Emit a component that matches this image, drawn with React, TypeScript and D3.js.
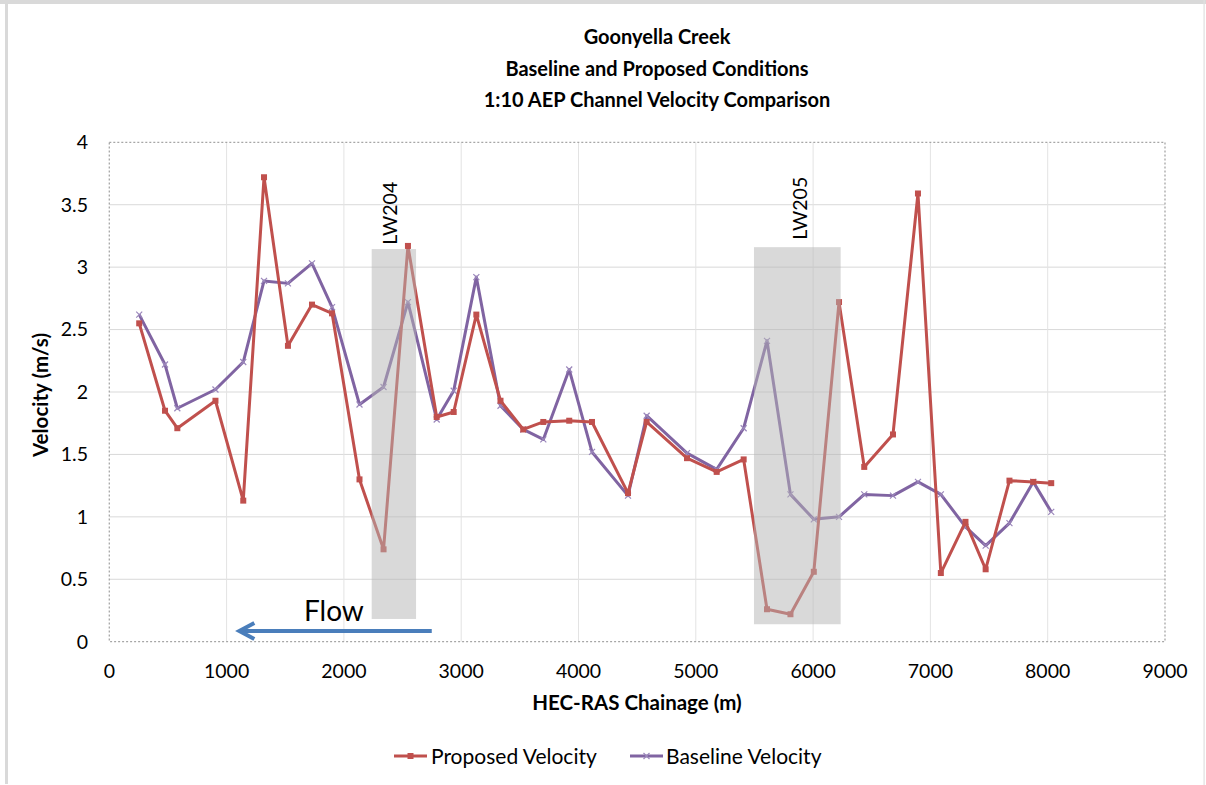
import React from "react";
import * as d3 from "d3";

const chainage = [255, 475, 580, 905, 1142, 1319, 1523, 1728, 1899, 2133, 2338, 2546, 2791, 2936, 3129, 3335, 3529, 3700, 3921, 4115, 4422, 4581, 4925, 5178, 5408, 5607, 5807, 6006, 6221, 6436, 6681, 6894, 7089, 7299, 7471, 7674, 7877, 8030];
const proposed = [2.55, 1.85, 1.71, 1.93, 1.13, 3.72, 2.37, 2.70, 2.63, 1.30, 0.74, 3.17, 1.80, 1.84, 2.62, 1.93, 1.70, 1.76, 1.77, 1.76, 1.19, 1.76, 1.47, 1.36, 1.46, 0.26, 0.22, 0.56, 2.72, 1.40, 1.66, 3.59, 0.55, 0.96, 0.58, 1.29, 1.28, 1.27];
const baseline = [2.62, 2.22, 1.87, 2.02, 2.24, 2.89, 2.87, 3.03, 2.68, 1.90, 2.04, 2.72, 1.78, 2.01, 2.92, 1.89, 1.70, 1.62, 2.18, 1.52, 1.17, 1.81, 1.51, 1.38, 1.71, 2.41, 1.18, 0.98, 1.00, 1.18, 1.17, 1.28, 1.18, 0.92, 0.77, 0.95, 1.28, 1.04];
const xTicks = [0, 1000, 2000, 3000, 4000, 5000, 6000, 7000, 8000, 9000];
const yTicks = [0, 0.5, 1, 1.5, 2, 2.5, 3, 3.5, 4];
const zones = [
  { name: "LW204", x0: 2237, x1: 2615, y0: 0.182, y1: 3.145, labelX: 2450, labelY: 3.18 },
  { name: "LW205", x0: 5496, x1: 6235, y0: 0.14, y1: 3.16, labelX: 5950, labelY: 3.22 },
];
const titleLines = ["Goonyella Creek", "Baseline and Proposed Conditions", "1:10 AEP Channel Velocity Comparison"];
const flow = { label: "Flow", from: 2749, to: 1100, y: 0.086, textX: 1660, textY: 0.168 };

const RED = "#c0504d";
const PURPLE = "#8064a2";
const FONT = "Lato, 'Open Sans', sans-serif";

export default function App() {
  const W = 1206, H = 785;
  const L = 109.3, R = 1165, T = 142.3, B = 641.7;
  const x = d3.scaleLinear().domain([0, 9000]).range([L, R]);
  const y = d3.scaleLinear().domain([0, 4]).range([B, T]);
  const line = d3.line<number>().x((_, i) => x(chainage[i])).y((d) => y(d));

  const ax = x(flow.to), bx = x(flow.from), fy = y(flow.y);

  return (
    <svg width={W} height={H} style={{ position: "absolute", left: 0, top: 0, background: "#fff" }} fontFamily={FONT}>
      <rect x={0} y={0} width={W} height={H} fill="#fff" />
      {/* outer frame */}
      <rect x={0} y={0} width={W} height={4} fill="#d9d9d9" />
      <rect x={5} y={0} width={3} height={784} fill="#d9d9d9" />
      <rect x={1203.5} y={0} width={1.2} height={H} fill="#e0e0e0" />

      {/* title */}
      {titleLines.map((t, i) => (
        <text key={t} x={657} y={44 + i * 31.5} textAnchor="middle" fontWeight="bold" fontSize={20} fill="#000">{t}</text>
      ))}

      {/* gridlines */}
      {yTicks.filter((v) => v > 0 && v < 4).map((v) => (
        <line key={"gy" + v} x1={L} x2={R} y1={y(v)} y2={y(v)} stroke="#d9d9d9" strokeWidth={1} />
      ))}
      {xTicks.filter((v) => v > 0 && v < 9000).map((v) => (
        <line key={"gx" + v} x1={x(v)} x2={x(v)} y1={T} y2={B} stroke="#e3e3e3" strokeWidth={1} />
      ))}
      {/* plot border */}
      <rect x={L} y={T} width={R - L} height={B - T} fill="none" stroke="#a6a6a6" strokeWidth={1.3} strokeDasharray="2,2" />

      {/* tick labels */}
      {yTicks.map((v) => (
        <text key={"ty" + v} x={88} y={y(v)} dy="0.35em" textAnchor="end" fontSize={19.5} fill="#000">{v}</text>
      ))}
      {xTicks.map((v) => (
        <text key={"tx" + v} x={x(v)} y={678} textAnchor="middle" fontSize={19.5} fill="#000">{v}</text>
      ))}

      {/* axis titles */}
      <text transform={`translate(48,${(T + B) / 2 + 3}) rotate(-90)`} textAnchor="middle" fontWeight="bold" fontSize={20.5} fill="#000">Velocity (m/s)</text>
      <text x={637} y={710} textAnchor="middle" fontWeight="bold" fontSize={20.5} fill="#000">HEC-RAS Chainage (m)</text>

      {/* series */}
      <path d={line(baseline) || ""} fill="none" stroke={PURPLE} strokeWidth={3} strokeLinejoin="round" />
      {baseline.map((v, i) => {
        const cx = x(chainage[i]), cy = y(v);
        return (
          <path key={"bm" + i} d={`M${cx - 3},${cy - 3}L${cx + 3},${cy + 3}M${cx - 3},${cy + 3}L${cx + 3},${cy - 3}`} stroke="#9b87bb" strokeWidth={1.2} />
        );
      })}
      <path d={line(proposed) || ""} fill="none" stroke={RED} strokeWidth={3} strokeLinejoin="round" />
      {proposed.map((v, i) => (
        <rect key={"pm" + i} x={x(chainage[i]) - 3} y={y(v) - 3} width={6} height={6} fill={RED} />
      ))}

      {/* longwall zones (semi-transparent overlay) */}
      {zones.map((z) => (
        <g key={z.name}>
          <rect x={x(z.x0)} y={y(z.y1)} width={x(z.x1) - x(z.x0)} height={y(z.y0) - y(z.y1)} fill="#b4b4b4" fillOpacity={0.5} />
          <text transform={`translate(${x(z.labelX)},${y(z.labelY)}) rotate(-90)`} fontSize={19.5} fill="#000">{z.name}</text>
        </g>
      ))}

      {/* flow arrow */}
      <line x1={bx} x2={ax + 2} y1={fy} y2={fy} stroke="#4a7ebb" strokeWidth={4} />
      <path d={`M${ax + 16},${fy - 8}L${ax + 1},${fy}L${ax + 16},${fy + 8}`} fill="none" stroke="#4a7ebb" strokeWidth={4} strokeLinejoin="miter" />
      <text x={x(flow.textX)} y={y(flow.textY)} fontSize={28} fill="#000">{flow.label}</text>

      {/* legend */}
      <line x1={394} x2={427} y1={756} y2={756} stroke={RED} strokeWidth={3} />
      <rect x={407.5} y={753} width={6} height={6} fill={RED} />
      <text x={431} y={763.5} fontSize={21} fill="#000">Proposed Velocity</text>
      <line x1={630} x2={663} y1={756} y2={756} stroke={PURPLE} strokeWidth={3} />
      <path d="M643.5,753L649.5,759M643.5,759L649.5,753" stroke="#9b87bb" strokeWidth={1.2} />
      <text x={666} y={763.5} fontSize={21} fill="#000">Baseline Velocity</text>
    </svg>
  );
}
